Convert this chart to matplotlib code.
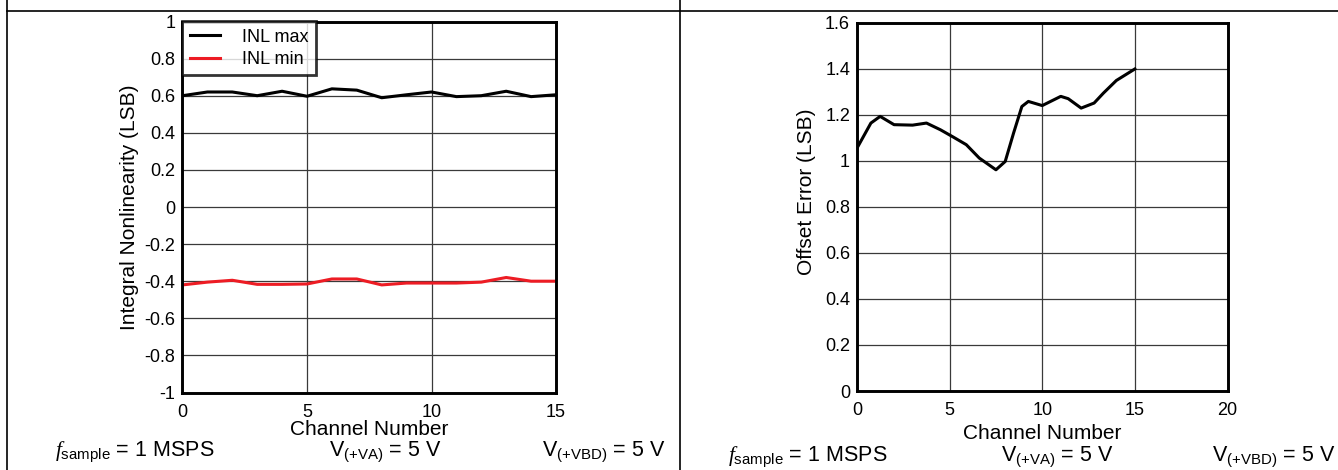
import matplotlib
matplotlib.use("Agg")
import matplotlib.pyplot as plt
from matplotlib.lines import Line2D

plt.rcParams['font.family'] = ['Liberation Sans', 'DejaVu Sans']
plt.rcParams['mathtext.fontset'] = 'custom'
plt.rcParams['mathtext.rm'] = 'Liberation Sans'
plt.rcParams['mathtext.it'] = 'Liberation Serif:italic'

# ---- data ----
channels = list(range(16))
inl_max = [0.60, 0.62, 0.62, 0.60, 0.624, 0.597, 0.637, 0.63, 0.589, 0.605,
           0.62, 0.595, 0.60, 0.624, 0.595, 0.605]
inl_min = [-0.42, -0.405, -0.395, -0.417, -0.417, -0.415, -0.388, -0.388, -0.42, -0.41,
           -0.41, -0.41, -0.405, -0.38, -0.40, -0.40]

offset_ch = [0, 0.75, 1.25, 2, 3, 3.75, 4.5, 5.2, 5.9, 6.6, 7.5, 8.0, 8.45, 8.9,
             9.25, 10, 11, 11.4, 12.1, 12.8, 13.3, 14, 15]
offset_err = [1.055, 1.164, 1.193, 1.157, 1.155, 1.164, 1.135, 1.103, 1.07, 1.012,
              0.961, 0.997, 1.12, 1.236, 1.258, 1.24, 1.28, 1.27, 1.229, 1.251,
              1.294, 1.349, 1.399]

left_xticks = [0, 5, 10, 15]
left_yticks = [-1, -0.8, -0.6, -0.4, -0.2, 0, 0.2, 0.4, 0.6, 0.8, 1]
right_xticks = [0, 5, 10, 15, 20]
right_yticks = [0, 0.2, 0.4, 0.6, 0.8, 1, 1.2, 1.4, 1.6]

RED = '#ed1c24'
W, H = 1338, 470
fig = plt.figure(figsize=(W / 100, H / 100), dpi=100)


def frac(x0, y0, x1, y1):
    return [x0 / W, 1 - y1 / H, (x1 - x0) / W, (y1 - y0) / H]


def fmt(v):
    return f"{v:g}"


def style(ax):
    for sp in ax.spines.values():
        sp.set_linewidth(2.1)
        sp.set_color('black')
        sp.set_zorder(5)
    ax.tick_params(length=0, labelsize=13, pad=5)
    ax.tick_params(axis='x', pad=8)
    ax.grid(True, color='#3a3a3a', lw=0.9)
    ax.set_axisbelow(True)


# ---- left chart ----
ax1 = fig.add_axes(frac(182.5, 21.5, 556, 392.5))
ax1.plot(channels, inl_max, color='black', lw=2.2, label='INL max', zorder=3)
ax1.plot(channels, inl_min, color=RED, lw=2.2, label='INL min', zorder=3)
ax1.set_xlim(0, 15)
ax1.set_ylim(-1, 1)
ax1.set_xticks(left_xticks)
ax1.set_xticklabels([fmt(v) for v in left_xticks])
ax1.set_yticks(left_yticks)
ax1.set_yticklabels([fmt(v) for v in left_yticks])
style(ax1)
ax1.set_xlabel('Channel Number', fontsize=15)
ax1.xaxis.set_label_coords(0.5, -0.075)
ax1.set_ylabel('Integral Nonlinearity (LSB)', fontsize=15)
ax1.yaxis.set_label_coords(-0.116, 0.5)
leg = ax1.legend(loc='upper left', fontsize=13, frameon=True, fancybox=False,
                 borderaxespad=0, handlelength=1.7, borderpad=0.4, labelspacing=0.3,
                 handletextpad=1.2)
leg.get_frame().set_edgecolor('black')
leg.get_frame().set_linewidth(2.0)
leg.set_zorder(6)

# ---- right chart ----
ax2 = fig.add_axes(frac(857, 22.7, 1227.5, 391))
ax2.plot(offset_ch, offset_err, color='black', lw=2.2, zorder=3)
ax2.set_xlim(0, 20)
ax2.set_ylim(0, 1.6)
ax2.set_xticks(right_xticks)
ax2.set_xticklabels([fmt(v) for v in right_xticks])
ax2.set_yticks(right_yticks)
ax2.set_yticklabels([fmt(v) for v in right_yticks])
style(ax2)
ax2.set_xlabel('Channel Number', fontsize=15)
ax2.xaxis.set_label_coords(0.5, -0.09)
ax2.set_ylabel('Offset Error (LSB)', fontsize=15)
ax2.yaxis.set_label_coords(-0.11, 0.54)

# ---- conditions ----
def cond(x, y, s, ha='left'):
    fig.text(x / W, 1 - y / H, s, fontsize=15.5, ha=ha, va='center')

cond(55, 452, r'$\mathit{f}_{\mathrm{sample}}$ = 1 MSPS')
cond(385, 452, r'V$_{\mathrm{(+VA)}}$ = 5 V', ha='center')
cond(665, 452, r'V$_{\mathrm{(+VBD)}}$ = 5 V', ha='right')
cond(728, 457, r'$\mathit{f}_{\mathrm{sample}}$ = 1 MSPS')
cond(1057, 457, r'V$_{\mathrm{(+VA)}}$ = 5 V', ha='center')
cond(1335, 457, r'V$_{\mathrm{(+VBD)}}$ = 5 V', ha='right')

# ---- table borders ----
fig.add_artist(Line2D([7 / W, 1], [1 - 11 / H, 1 - 11 / H], color='black', lw=1.2,
                      transform=fig.transFigure))
fig.add_artist(Line2D([7 / W, 7 / W], [0, 1], color='black', lw=1.2,
                      transform=fig.transFigure))
fig.add_artist(Line2D([679.5 / W, 679.5 / W], [0, 1], color='black', lw=1.2,
                      transform=fig.transFigure))

fig.savefig('out.png', dpi=100)
